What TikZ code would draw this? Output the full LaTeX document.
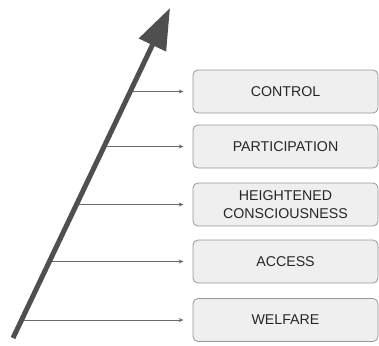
\documentclass[tikz,border=0pt]{standalone}
\usepackage{fontspec}
\setmainfont{Liberation Sans}
\usetikzlibrary{arrows.meta}

\definecolor{boxfill}{HTML}{EFEFEF}
\definecolor{boxline}{HTML}{969696}
\definecolor{axisgray}{HTML}{4F4F4F}
\definecolor{tickgray}{HTML}{6A6A6A}

\tikzset{
  level/.style={draw=boxline, fill=boxfill, rounded corners=5pt, line width=0.8pt,
    minimum width=185pt, minimum height=43pt, align=center, text=black!85,
    font=\fontsize{14.2}{17.5}\selectfont},
  levelarrow/.style={draw=tickgray, line width=0.9pt, -{Stealth[length=5pt,width=4pt]}, shorten >=9pt},
  ladder/.style={draw=axisgray, line width=5pt, -{Triangle[length=41pt,width=29pt]}}
}

\begin{document}
\begin{tikzpicture}[x=1pt,y=-1pt]
\useasboundingbox (0,0) rectangle (379,345);

% the five levels
\node[level] (control) at (285.5,91.5) {CONTROL};
\node[level] (particip) at (285.5,146.5) {PARTICIPATION};
\node[level] (conscious) at (285.5,204.5) {HEIGHTENED\\CONSCIOUSNESS};
\node[level] (access) at (285.5,261.5) {ACCESS};
\node[level] (welfare) at (285.5,320) {WELFARE};

% points on the big arrow
\coordinate (base) at (13,338);
\coordinate (tip) at (170,8);
\coordinate (s1) at (130,91.5);
\coordinate (s2) at (104,146.5);
\coordinate (s3) at (77,204.5);
\coordinate (s4) at (50,261.5);
\coordinate (s5) at (22,320);

\draw[levelarrow] (s1) -- (control);
\draw[levelarrow] (s2) -- (particip);
\draw[levelarrow] (s3) -- (conscious);
\draw[levelarrow] (s4) -- (access);
\draw[levelarrow] (s5) -- (welfare);

\draw[ladder] (base) -- (tip);
\end{tikzpicture}
\end{document}
